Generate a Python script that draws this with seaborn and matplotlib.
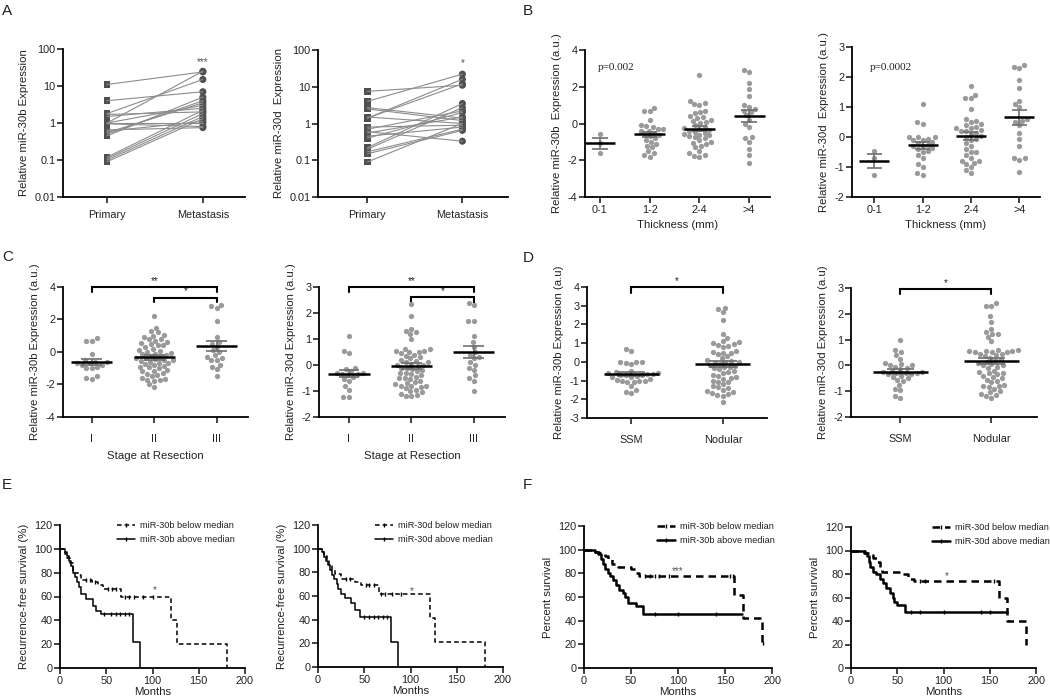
import numpy as np
import pandas as pd
import matplotlib
matplotlib.use("Agg")
import matplotlib.pyplot as plt
import seaborn as sns
from matplotlib.lines import Line2D

# ==============================
# DATA
# ==============================

# A: paired primary vs metastasis (log scale)
a30b_primary = [11, 4, 1.7, 1.5, 1.0, 1.0, 1.0, 0.95, 0.65, 0.55, 0.5, 0.45, 0.6, 0.12, 0.11, 0.1, 0.09, 1.8]
a30b_metast = [24, 7, 2.0, 2.5, 25, 3.0, 1.0, 0.8, 0.75, 3.5, 4.0, 5.0, 1.1, 2.2, 1.8, 1.5, 1.3, 15]
a30d_primary = [7.5, 4, 2.7, 2.5, 1.5, 1.4, 1.4, 0.8, 0.7, 0.6, 0.55, 0.45, 0.4, 0.22, 0.2, 0.17, 0.15, 0.09]
a30d_metast = [11, 22, 1.4, 1.2, 1.0, 16, 12, 0.9, 2.2, 0.33, 1.5, 0.8, 2.0, 3.5, 2.7, 0.7, 0.65, 1.0]
a_labels = ["Primary", "Metastasis"]

# B: thickness groups
thick_labels = ["0-1", "1-2", "2-4", ">4"]
b30b_t01 = [-0.55, -1.05, -1.6]
b30b_t12 = [0.85, 0.7, 0.7, -0.3, 0.2, -0.15, -0.4, -0.1, -0.2, -0.3, -0.4, -0.5, -0.6, -0.6,
            -0.7, -0.8, -0.9, -1.0, -1.1, -1.2, -1.3, -1.5, -1.6, -1.7, -1.8]
b30b_t24 = [2.65, 1.25, 1.1, 1.05, 1.0, 0.7, 0.6, 0.55, 0.4, 0.35, 0.3, 0.2, 0.1, 0.05, -0.1, -0.2,
            -0.25, -0.3, -0.4, -0.45, -0.5, -0.6, -0.7, -0.75, -0.8, -0.9, -1.0, -1.05, -1.2, -1.3,
            -1.5, -1.6, -1.7, -1.75, -1.8, -0.65, -0.35, 0.15, -0.55, -1.1]
b30b_t4 = [2.9, 2.8, 2.2, 1.9, 1.5, 1.0, 0.9, 0.8, 0.7, 0.6, 0.45, 0.2, 0.0, -0.2, -0.75, -0.8,
           -1.0, -1.4, -1.7, -2.15]
b30d_t01 = [-0.45, -0.7, -1.25]
b30d_t12 = [1.1, 0.5, 0.45, 0.0, 0.0, 0.0, -0.05, -0.1, -0.1, -0.15, -0.2, -0.3, -0.3, -0.35,
            -0.4, -0.45, -0.5, -0.6, -0.7, -0.9, -1.0, -1.2, -1.25, -0.25]
b30d_t24 = [1.7, 1.4, 1.3, 1.3, 0.95, 0.6, 0.55, 0.5, 0.45, 0.4, 0.3, 0.3, 0.25, 0.2, 0.15, 0.1,
            0.05, 0.0, -0.1, -0.2, -0.3, -0.4, -0.5, -0.5, -0.6, -0.7, -0.8, -0.8, -0.85, -0.9,
            -1.0, -1.1, -1.2, 0.35, 0.2, -0.05]
b30d_t4 = [2.35, 2.3, 2.4, 1.9, 1.65, 1.2, 1.1, 1.0, 0.6, 0.55, 0.5, 0.4, 0.15, -0.05, -0.3,
           -0.7, -0.7, -0.75, -1.15]

# C: stage at resection
stage_labels = ["I", "II", "III"]
c30b_s1 = [0.85, 0.7, 0.7, -0.1, -0.5, -0.6, -0.6, -0.7, -0.7, -0.8, -0.8, -0.9, -1.0, -1.0,
           -1.5, -1.6, -1.65]
c30b_s2 = [2.2, 1.5, 1.3, 1.2, 1.05, 1.0, 0.9, 0.8, 0.8, 0.7, 0.6, 0.55, 0.5, 0.4, 0.4, 0.3,
           0.2, 0.1, 0.05, 0.0, -0.05, -0.1, -0.15, -0.2, -0.25, -0.3, -0.35, -0.4, -0.45, -0.5,
           -0.55, -0.6, -0.65, -0.7, -0.75, -0.8, -0.85, -0.9, -0.95, -1.0, -1.1, -1.15, -1.2,
           -1.3, -1.35, -1.4, -1.5, -1.6, -1.65, -1.7, -1.75, -1.8, -2.0, -2.15, -0.5]
c30b_s3 = [2.9, 2.8, 2.7, 1.9, 0.95, 0.6, 0.5, 0.3, 0.1, 0.0, -0.2, -0.3, -0.4, -0.5, -0.5,
           -0.8, -0.9, -1.05, -1.5]
c30d_s1 = [1.1, 0.55, 0.45, -0.3, -0.1, -0.15, -0.25, -0.3, -0.35, -0.35, -0.4, -0.45, -0.55,
           -0.6, -0.95, -1.25, -1.25, -0.8]
c30d_s2 = [2.35, 1.9, 1.4, 1.3, 1.25, 1.2, 1.0, 0.6, 0.6, 0.55, 0.55, 0.5, 0.5, 0.45, 0.4, 0.35,
           0.3, 0.25, 0.2, 0.15, 0.1, 0.1, 0.05, 0.0, 0.0, -0.05, -0.1, -0.1, -0.15, -0.2, -0.25,
           -0.3, -0.35, -0.4, -0.45, -0.5, -0.55, -0.6, -0.65, -0.7, -0.75, -0.8, -0.8, -0.8,
           -0.85, -0.9, -0.95, -1.0, -1.05, -1.1, -1.15, -1.2, -1.2, -0.3, -0.5]
c30d_s3 = [2.4, 2.3, 1.7, 1.7, 1.1, 0.9, 0.5, 0.4, 0.3, 0.25, 0.1, 0.0, -0.1, -0.2, -0.4, -0.5,
           -0.6, -1.0, 0.7]

# D: histologic subtype
type_labels = ["SSM", "Nodular"]
d30b_ssm = [0.7, 0.6, 0.0, 0.0, -0.05, 0.0, -0.1, -0.5, -0.55, -0.6, -0.6, -0.65, -0.65, -0.7,
            -0.7, -0.7, -0.75, -0.8, -0.8, -0.9, -0.95, -1.0, -1.0, -1.0, -1.05, -1.1, -1.3,
            -1.5, -1.6, -1.65]
d30b_nod = [2.9, 2.8, 2.65, 2.25, 1.5, 1.3, 1.1, 1.05, 1.0, 0.95, 0.9, 0.85, 0.8, 0.6, 0.55, 0.5,
            0.45, 0.4, 0.3, 0.2, 0.1, 0.05, 0.0, 0.0, -0.05, -0.1, -0.15, -0.2, -0.3, -0.35, -0.4,
            -0.5, -0.55, -0.6, -0.7, -0.75, -0.8, -0.85, -0.9, -1.0, -1.05, -1.1, -1.2, -1.3,
            -1.35, -1.4, -1.5, -1.55, -1.6, -1.65, -1.7, -1.75, -1.8, -2.15, -0.25]
d30d_ssm = [1.0, 0.6, 0.5, 0.4, 0.25, 0.1, 0.05, 0.0, 0.0, -0.05, -0.1, -0.15, -0.2, -0.25,
            -0.25, -0.3, -0.3, -0.35, -0.35, -0.4, -0.45, -0.5, -0.55, -0.6, -0.75, -0.9, -0.95,
            -1.2, -1.25, -0.3]
d30d_nod = [2.4, 2.3, 2.3, 1.9, 1.7, 1.4, 1.3, 1.2, 1.2, 1.1, 0.95, 0.6, 0.6, 0.55, 0.55, 0.55,
            0.5, 0.5, 0.5, 0.45, 0.45, 0.4, 0.35, 0.3, 0.25, 0.2, 0.15, 0.1, 0.05, 0.0, 0.0, -0.05,
            -0.1, -0.2, -0.25, -0.3, -0.35, -0.4, -0.45, -0.5, -0.55, -0.6, -0.65, -0.75, -0.8,
            -0.8, -0.85, -0.9, -1.0, -1.05, -1.1, -1.15, -1.2, -1.25, -0.3]

# E: recurrence-free survival (step times / survival %)
e30b_low_t = [0, 5, 8, 11, 14, 20, 23, 35, 41, 47, 66, 120, 127, 181]
e30b_low_s = [100, 96, 92, 88, 80, 78, 74, 72, 70, 66, 60, 40, 20, 0]
e30b_low_cens = [28, 32, 38, 52, 56, 60, 70, 75, 80, 90, 100]
e30b_high_t = [0, 5, 8, 10, 12, 14, 16, 18, 20, 23, 28, 36, 39, 44, 79, 87]
e30b_high_s = [100, 97, 94, 90, 86, 80, 76, 72, 68, 62, 58, 52, 48, 45, 22, 0]
e30b_high_cens = [48, 55, 60, 65, 70, 75]

e30d_low_t = [0, 4, 7, 10, 12, 15, 18, 25, 40, 47, 66, 121, 127, 180]
e30d_low_s = [100, 97, 94, 90, 86, 82, 79, 74, 72, 69, 62, 41, 21, 0]
e30d_low_cens = [30, 35, 52, 55, 60, 68, 72, 80, 90]
e30d_high_t = [0, 4, 7, 9, 11, 13, 15, 17, 20, 22, 25, 29, 36, 40, 45, 79, 86]
e30d_high_s = [100, 97, 93, 90, 86, 82, 78, 74, 70, 66, 62, 58, 54, 48, 42, 21, 0]
e30d_high_cens = [50, 55, 60, 65, 70, 75]

# F: overall survival
f30b_low_t = [0, 12, 16, 22, 26, 30, 33, 36, 50, 55, 58, 160, 169, 189]
f30b_low_s = [100, 98, 97, 95, 92, 88, 86, 85, 84, 80, 78, 62, 42, 21]
f30b_low_cens = [65, 70, 75, 80, 90, 155, 158, 190]
f30b_high_t = [0, 12, 15, 18, 20, 22, 25, 28, 31, 34, 37, 41, 44, 47, 55, 63, 168]
f30b_high_s = [100, 98, 96, 92, 88, 84, 80, 78, 74, 70, 66, 63, 60, 55, 52, 46, 46]
f30b_high_cens = [75, 100, 140]

f30d_low_t = [0, 15, 20, 24, 28, 31, 33, 55, 62, 68, 160, 169, 189]
f30d_low_s = [100, 98, 96, 94, 90, 86, 82, 80, 76, 74, 60, 40, 20]
f30d_low_cens = [75, 80, 155]
f30d_high_t = [0, 14, 17, 19, 21, 24, 27, 31, 35, 38, 42, 45, 47, 50, 58, 169]
f30d_high_s = [100, 98, 95, 90, 86, 82, 80, 76, 72, 68, 64, 60, 56, 54, 48, 48]
f30d_high_cens = [65, 75, 100, 140, 150]

# ==============================
# STYLE
# ==============================

sns.set_theme(style="ticks")
plt.rcParams["font.family"] = ["Liberation Sans", "DejaVu Sans"]
plt.rcParams["axes.unicode_minus"] = False
plt.rcParams["axes.linewidth"] = 1.3
plt.rcParams["xtick.major.width"] = 1.2
plt.rcParams["ytick.major.width"] = 1.2
plt.rcParams["xtick.major.size"] = 4
plt.rcParams["ytick.major.size"] = 4
plt.rcParams["xtick.labelsize"] = 7.8
plt.rcParams["ytick.labelsize"] = 7.8
plt.rcParams["axes.labelsize"] = 8.2
TXT = "#222222"
DOT = "#9a9a9a"

W, H = 1050, 699
fig = plt.figure(figsize=(W / 100, H / 100), dpi=100)


def add_ax(left, right, top, bottom):
    return fig.add_axes([left / W, 1 - bottom / H, (right - left) / W, (bottom - top) / H])


def style(ax, xpad=1.5):
    sns.despine(ax=ax)
    ax.tick_params(colors=TXT, labelcolor=TXT, pad=1.5)
    ax.tick_params(axis="x", pad=xpad)
    ax.spines["left"].set_color("black")
    ax.spines["bottom"].set_color("black")


# ==============================
# A: paired plots
# ==============================

def paired(ax, prim, met, ylabel, star, xlim):
    n = len(prim)
    df = pd.DataFrame({
        "x": [0] * n + [1] * n,
        "y": prim + met,
        "pair": list(range(n)) * 2,
    })
    ax.set_yscale("log")
    sns.lineplot(data=df, x="x", y="y", units="pair", estimator=None, color="#8c8c8c",
                 linewidth=0.8, ax=ax, legend=False)
    sns.scatterplot(x=[0] * n, y=prim, marker="s", s=24, color="#505050", edgecolor="none", ax=ax)
    sns.scatterplot(x=[1] * n, y=met, marker="o", s=26, color="#505050", edgecolor="none", ax=ax)
    ax.set_ylim(0.01, 100)
    ax.set_yticks([0.01, 0.1, 1, 10, 100])
    ax.set_yticklabels(["0.01", "0.1", "1", "10", "100"])
    ax.minorticks_off()
    ax.set_xlim(*xlim)
    ax.set_xticks([0, 1])
    ax.set_xticklabels(a_labels)
    ax.set_xlabel("")
    ax.set_ylabel(ylabel, color=TXT)
    ax.text(1, 32, star, ha="center", va="bottom", fontsize=7, color="#555555")
    style(ax, xpad=5.5)


ax = add_ax(63, 245, 49, 197)
paired(ax, a30b_primary, a30b_metast, "Relative miR-30b Expression", "***", (-0.46, 1.44))
ax = add_ax(318, 508, 50, 197)
paired(ax, a30d_primary, a30d_metast, "Relative miR-30d  Expression", "*", (-0.52, 1.48))


# ==============================
# B/C/D: scatter with mean +/- SEM
# ==============================

def dotplot(ax, groups, labels, ylim, yticks, ylabel, xlabel, xlim, half=0.31, xpad=1.5,
            labelpad=4):
    df = pd.DataFrame({
        "g": np.repeat(labels, [len(v) for v in groups]),
        "v": np.concatenate([np.asarray(v, float) for v in groups]),
    })
    sns.swarmplot(data=df, x="g", y="v", order=labels, color=DOT, size=3.8, ax=ax)
    for i, v in enumerate(groups):
        v = np.asarray(v, float)
        m = v.mean()
        se = v.std(ddof=1) / np.sqrt(len(v))
        ax.vlines(i, m - se, m + se, color="#6f6f6f", lw=1.2, zorder=4)
        ax.hlines([m - se, m + se], i - half * 0.5, i + half * 0.5, color="#6f6f6f", lw=1.2, zorder=4)
        ax.hlines(m, i - half, i + half, color="black", lw=1.8, zorder=5)
    ax.set_ylim(*ylim)
    ax.set_yticks(yticks)
    ax.set_xlim(*xlim)
    ax.set_xlabel(xlabel, color=TXT, labelpad=labelpad)
    ax.set_ylabel(ylabel, color=TXT)
    style(ax, xpad=xpad)


def bracket(ax, x0, x1, y, drop, label):
    ax.plot([x0, x0, x1, x1], [y - drop, y, y, y - drop], color="black", lw=1.5,
            clip_on=False, solid_joinstyle="miter")
    ax.text((x0 + x1) / 2, y + drop * 0.25, label, ha="center", va="bottom", fontsize=7,
            color=TXT)


ax = add_ax(585, 770, 50, 197)
dotplot(ax, [b30b_t01, b30b_t12, b30b_t24, b30b_t4], thick_labels, (-4, 4), [-4, -2, 0, 2, 4],
        "Relative miR-30b  Expression (a.u.)", "Thickness (mm)", (-0.3, 3.42))
ax.text(-0.05, 3.05, "p=0.002", fontsize=8, family="Liberation Serif", color=TXT, va="center")

ax = add_ax(852, 1040, 47, 197)
dotplot(ax, [b30d_t01, b30d_t12, b30d_t24, b30d_t4], thick_labels, (-2, 3), [-2, -1, 0, 1, 2, 3],
        "Relative miR-30d  Expression (a.u.)", "Thickness (mm)", (-0.46, 3.43))
ax.text(-0.1, 2.3, "p=0.0002", fontsize=8, family="Liberation Serif", color=TXT, va="center")

ax = add_ax(63, 248, 287, 417)
dotplot(ax, [c30b_s1, c30b_s2, c30b_s3], stage_labels, (-4, 4), [-4, -2, 0, 2, 4],
        "Relative miR-30b Expression (a.u.)", "Stage at Resection", (-0.46, 2.5), half=0.33,
        xpad=8.5, labelpad=5)
bracket(ax, 0, 2, 4.0, 0.3, "**")
bracket(ax, 1, 2, 3.35, 0.3, "*")

ax = add_ax(319, 505, 287, 417)
dotplot(ax, [c30d_s1, c30d_s2, c30d_s3], stage_labels, (-2, 3), [-2, -1, 0, 1, 2, 3],
        "Relative miR-30d Expression (a.u.)", "Stage at Resection", (-0.48, 2.5), half=0.33,
        xpad=8.5, labelpad=5)
bracket(ax, 0, 2, 3.0, 0.2, "**")
bracket(ax, 1, 2, 2.6, 0.2, "*")

ax = add_ax(587, 767, 287, 418)
dotplot(ax, [d30b_ssm, d30b_nod], type_labels, (-3, 4), list(range(-3, 5)),
        "Relative miR-30b Expression (a.u)", "", (-0.48, 1.48), half=0.3, xpad=8.5)
bracket(ax, 0, 1, 4.0, 0.3, "*")

ax = add_ax(851, 1037, 288, 417)
dotplot(ax, [d30d_ssm, d30d_nod], type_labels, (-2, 3), [-2, -1, 0, 1, 2, 3],
        "Relative miR-30d Expression (a.u)", "", (-0.54, 1.5), half=0.3, xpad=8.5)
bracket(ax, 0, 1, 2.95, 0.2, "*")


# ==============================
# E/F: Kaplan-Meier curves
# ==============================

def step_value(t, s, c):
    idx = np.searchsorted(np.asarray(t), np.asarray(c), side="right") - 1
    return np.asarray(s)[idx]


def km(ax, curves, names, ylabel, star, star_xy, lw, leg_x):
    styles = [(0, (3, 2)), "-"]
    for (t, s, c), ls in zip(curves, styles):
        sns.lineplot(x=t, y=s, drawstyle="steps-post", estimator=None, sort=False,
                     color="black", linewidth=lw, linestyle=ls, ax=ax)
        ax.plot(c, step_value(t, s, c), linestyle="none", marker="|", color="black",
                markersize=3.5, markeredgewidth=1.0)
    ax.set_xlim(0, 200)
    ax.set_ylim(0, 120)
    ax.set_xticks([0, 50, 100, 150, 200])
    ax.set_yticks(range(0, 121, 20))
    ax.set_xlabel("Months", color=TXT, labelpad=1)
    ax.set_ylabel(ylabel, color=TXT)
    ax.text(star_xy[0], star_xy[1], star, ha="center", va="center", fontsize=7, color="#555555")
    handles = [Line2D([], [], color="black", lw=lw, linestyle=styles[0], marker="|", markersize=3.5),
               Line2D([], [], color="black", lw=lw, linestyle=styles[1], marker="|", markersize=3.5)]
    ax.legend(handles, names, loc="upper left", bbox_to_anchor=(leg_x, 1.03), frameon=False,
              fontsize=6.6, handlelength=1.9, handletextpad=0.6, labelspacing=0.55,
              borderaxespad=0, borderpad=0, labelcolor=TXT)
    style(ax)


ax = add_ax(60, 245, 525, 668)
km(ax, [(e30b_low_t, e30b_low_s, e30b_low_cens), (e30b_high_t, e30b_high_s, e30b_high_cens)],
   ["miR-30b below median", "miR-30b above median"], "Recurrence-free survival (%)", "*",
   (102, 65), 1.1, 0.31)
ax = add_ax(318, 503, 525, 667)
km(ax, [(e30d_low_t, e30d_low_s, e30d_low_cens), (e30d_high_t, e30d_high_s, e30d_high_cens)],
   ["miR-30d below median", "miR-30d above median"], "Recurrence-free survival (%)", "*",
   (101, 64), 1.1, 0.31)
ax = add_ax(584, 772, 526, 668)
km(ax, [(f30b_low_t, f30b_low_s, f30b_low_cens), (f30b_high_t, f30b_high_s, f30b_high_cens)],
   ["miR-30b below median", "miR-30b above median"], "Percent survival", "***",
   (100, 82), 1.8, 0.39)
ax = add_ax(851, 1036, 527, 668)
km(ax, [(f30d_low_t, f30d_low_s, f30d_low_cens), (f30d_high_t, f30d_high_s, f30d_high_cens)],
   ["miR-30d below median", "miR-30d above median"], "Percent survival", "*",
   (103, 78), 1.8, 0.44)

# panel letters
for letter, (px, py) in {"A": (2, 4), "B": (523, 4), "C": (2, 250), "D": (523, 251),
                         "E": (2, 478), "F": (523, 478)}.items():
    fig.text(px / W, 1 - py / H, letter, fontsize=11, va="top", ha="left", color=TXT)

fig.savefig("out.png", dpi=100)
